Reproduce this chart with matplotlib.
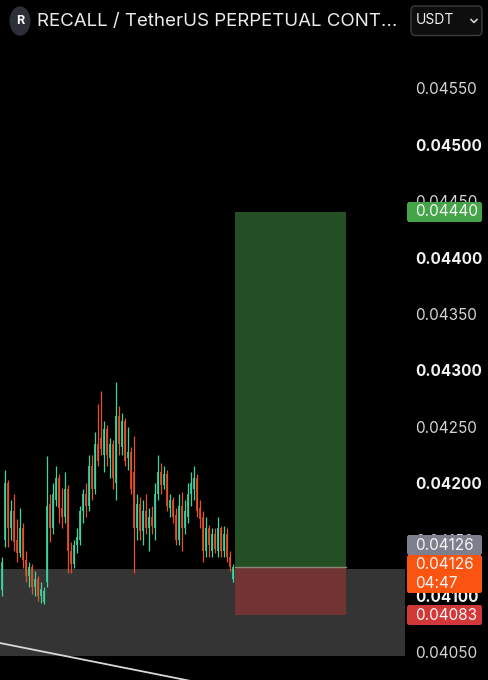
import matplotlib
matplotlib.use("Agg")
import matplotlib.pyplot as plt
import matplotlib.patches as mpatches
import numpy as np

plt.rcParams['font.family'] = ['Inter', 'DejaVu Sans']

# ---------------- data (prices in USDT) ----------------
opens = [0.04105, 0.04150, 0.04200, 0.04160, 0.04175, 0.04150, 0.04138, 0.04160, 0.04132, 0.04118,
         0.04126, 0.04108, 0.04115, 0.04100, 0.04095, 0.04112, 0.04182, 0.04160, 0.04185, 0.04205,
         0.04178, 0.04170, 0.04195, 0.04140, 0.04128, 0.04145, 0.04150, 0.04175, 0.04190, 0.04180,
         0.04215, 0.04195, 0.04235, 0.04240, 0.04225, 0.04248, 0.04222, 0.04235, 0.04200, 0.04260,
         0.04232, 0.04255, 0.04222, 0.04228, 0.04210, 0.04160, 0.04182, 0.04158, 0.04175, 0.04160,
         0.04170, 0.04160, 0.04190, 0.04210, 0.04198, 0.04208, 0.04178, 0.04185, 0.04172, 0.04150,
         0.04180, 0.04160, 0.04170, 0.04190, 0.04195, 0.04205, 0.04178, 0.04170, 0.04140, 0.04160,
         0.04140, 0.04155, 0.04140, 0.04160, 0.04140, 0.04155, 0.04135, 0.04115]
highs = [0.04135, 0.04212, 0.04203, 0.04185, 0.04190, 0.04168, 0.04178, 0.04165, 0.04140, 0.04130,
         0.04128, 0.04122, 0.04118, 0.04112, 0.04108, 0.04224, 0.04190, 0.04200, 0.04215, 0.04208,
         0.04196, 0.04210, 0.04198, 0.04148, 0.04150, 0.04160, 0.04180, 0.04195, 0.04200, 0.04225,
         0.04225, 0.04245, 0.04270, 0.04282, 0.04255, 0.04252, 0.04240, 0.04238, 0.04290, 0.04268,
         0.04262, 0.04258, 0.04250, 0.04232, 0.04242, 0.04190, 0.04188, 0.04185, 0.04190, 0.04178,
         0.04180, 0.04200, 0.04225, 0.04218, 0.04215, 0.04212, 0.04190, 0.04188, 0.04178, 0.04190,
         0.04192, 0.04185, 0.04200, 0.04210, 0.04215, 0.04208, 0.04185, 0.04175, 0.04170, 0.04163,
         0.04160, 0.04160, 0.04170, 0.04162, 0.04162, 0.04160, 0.04140, 0.04128]
lows = [0.04100, 0.04143, 0.04143, 0.04150, 0.04140, 0.04130, 0.04135, 0.04125, 0.04112, 0.04108,
        0.04102, 0.04100, 0.04096, 0.04094, 0.04093, 0.04108, 0.04148, 0.04155, 0.04180, 0.04165,
        0.04160, 0.04165, 0.04120, 0.04120, 0.04125, 0.04138, 0.04145, 0.04165, 0.04170, 0.04175,
        0.04185, 0.04190, 0.04215, 0.04225, 0.04210, 0.04215, 0.04205, 0.04195, 0.04185, 0.04225,
        0.04225, 0.04215, 0.04212, 0.04190, 0.04120, 0.04150, 0.04150, 0.04145, 0.04155, 0.04140,
        0.04155, 0.04150, 0.04185, 0.04190, 0.04195, 0.04175, 0.04170, 0.04165, 0.04145, 0.04145,
        0.04140, 0.04155, 0.04165, 0.04180, 0.04185, 0.04170, 0.04160, 0.04130, 0.04135, 0.04135,
        0.04135, 0.04138, 0.04135, 0.04135, 0.04135, 0.04130, 0.04122, 0.04112]
closes = [0.04130, 0.04200, 0.04160, 0.04175, 0.04148, 0.04138, 0.04160, 0.04132, 0.04118, 0.04126,
          0.04108, 0.04115, 0.04100, 0.04106, 0.04104, 0.04180, 0.04160, 0.04190, 0.04205, 0.04178,
          0.04170, 0.04195, 0.04140, 0.04128, 0.04145, 0.04152, 0.04175, 0.04190, 0.04180, 0.04215,
          0.04195, 0.04235, 0.04220, 0.04230, 0.04248, 0.04225, 0.04235, 0.04205, 0.04260, 0.04235,
          0.04255, 0.04220, 0.04228, 0.04195, 0.04160, 0.04182, 0.04158, 0.04175, 0.04160, 0.04170,
          0.04162, 0.04190, 0.04210, 0.04198, 0.04208, 0.04180, 0.04185, 0.04170, 0.04150, 0.04180,
          0.04160, 0.04175, 0.04190, 0.04200, 0.04205, 0.04175, 0.04168, 0.04140, 0.04160, 0.04145,
          0.04155, 0.04142, 0.04160, 0.04140, 0.04155, 0.04135, 0.04126, 0.04126]

entry_price = 0.04126
target_price = 0.04440
stop_price = 0.04083
last_price = 0.04126
countdown = "04:47"
zone_top, zone_bottom = 0.04124, 0.04047          # grey shaded zone
trend_x = [-0.5, 70.0]                             # trend line (bar index)
trend_y = [0.040583, 0.040210]                     # trend line prices
ticks = [0.04050, 0.04100, 0.04150, 0.04200, 0.04250, 0.04300,
         0.04350, 0.04400, 0.04450, 0.04500, 0.04550]
title = "RECALL / TetherUS PERPETUAL CONT..."
currency = "USDT"

# ---------------- figure ----------------
W, H = 488, 680
fig = plt.figure(figsize=(W / 100, H / 100), dpi=100, facecolor='black')
ax = fig.add_axes([0, 0, 405 / W, 1])
ax.set_facecolor('black')

px_per_price = 112.8 / 0.001
y_at_596 = 0.041
ybot = y_at_596 - (H - 596) / px_per_price
ytop = y_at_596 + 596 / px_per_price
ax.set_ylim(ybot, ytop)
ax.set_xlim(-0.5, 134.5)

GREEN = '#3ad69c'
RED = '#e5512a'

# grey zone
ax.axhspan(zone_bottom, zone_top, color='#343434', zorder=0, lw=0)

# candles
idx = np.arange(len(opens))
o = np.array(opens); c = np.array(closes); hi = np.array(highs); lo = np.array(lows)
cols = [GREEN if cc >= oo else RED for oo, cc in zip(o, c)]
ax.vlines(idx, lo, hi, colors=cols, lw=0.9, zorder=3)
ax.bar(idx, np.maximum(np.abs(c - o), 0.000012), bottom=np.minimum(o, c), width=0.62,
       color=cols, zorder=3, lw=0, alpha=0.85)

# long position tool
x0, x1 = 77.8, 114.8
ax.add_patch(mpatches.Rectangle((x0, entry_price), x1 - x0, target_price - entry_price,
                                facecolor='#244f25', edgecolor='none', zorder=2))
ax.add_patch(mpatches.Rectangle((x0, stop_price), x1 - x0, entry_price - stop_price,
                                facecolor='#723333', edgecolor='none', zorder=2))
ax.plot([x0, x1], [entry_price, entry_price], color='#8a8878', lw=1.0, zorder=2)

# trend line
ax.plot(trend_x, trend_y, color='#d8d8d8', lw=1.3, zorder=4, solid_capstyle='butt')

# axis styling
for s in ax.spines.values():
    s.set_visible(False)
ax.set_xticks([])
ax.yaxis.tick_right()
ax.set_yticks(ticks)
ax.set_yticklabels([f"{t:.5f}" for t in ticks])
ax.tick_params(axis='y', length=0, pad=7.5, labelsize=11, labelcolor='#e0e0e0')
for t, lab in zip(ticks, ax.get_yticklabels()):
    if round(t * 100000) % 100 == 0:
        lab.set_fontweight('bold')
        lab.set_color('#f2f2f2')
    else:
        lab.set_color('#d4d4d4')


def fx(px):
    return px / W


def fy(py):
    return 1 - py / H


def badge(x_left, y_top, w, h, color, lines):
    fig.patches.append(mpatches.FancyBboxPatch((fx(x_left), fy(y_top + h)), w / W, h / H,
                                               boxstyle='round,pad=0,rounding_size=0.004',
                                               transform=fig.transFigure, facecolor=color,
                                               edgecolor='none', zorder=5))
    n = len(lines)
    for i, t in enumerate(lines):
        yc = y_top + h * (i + 0.5) / n
        fig.text(fx(x_left + 8), fy(yc), t, color='#f4f4f4', fontsize=11,
                 va='center', ha='left', zorder=6)


badge(407, 202, 75, 20, '#43a548', [f"{target_price:.5f}"])
badge(407, 535, 75, 20, '#7d7f8c', [f"{last_price:.5f}"])
badge(407, 555, 75, 38, '#fb5410', [f"{entry_price:.5f}", countdown])
badge(407, 605, 75, 20, '#d23838', [f"{stop_price:.5f}"])

# header
fig.patches.append(mpatches.Circle((fx(20), fy(21)), 10.5 / W, transform=fig.transFigure,
                                   facecolor='#2c2f38', edgecolor='none'))
fig.text(fx(20), fy(21), "R", color='white', fontsize=9, fontweight='bold',
         ha='center', va='center')
fig.text(fx(37), fy(21.5), title, color='#ececec', fontsize=13.5, ha='left', va='center')

fig.patches.append(mpatches.FancyBboxPatch((fx(411), fy(35.5)), 71 / W, 29.5 / H,
                                           boxstyle='round,pad=0,rounding_size=0.008',
                                           transform=fig.transFigure, facecolor='#0e0e0e',
                                           edgecolor='#3c3c3c', lw=1.0))
fig.text(fx(416), fy(20.5), currency, color='#efefef', fontsize=10, ha='left', va='center')
fig.lines.append(plt.Line2D([fx(471), fx(474), fx(477)], [fy(19.5), fy(22.5), fy(19.5)],
                            transform=fig.transFigure, color='#dcdcdc', lw=1.1))

fig.savefig('out.png', dpi=100, facecolor='black')
